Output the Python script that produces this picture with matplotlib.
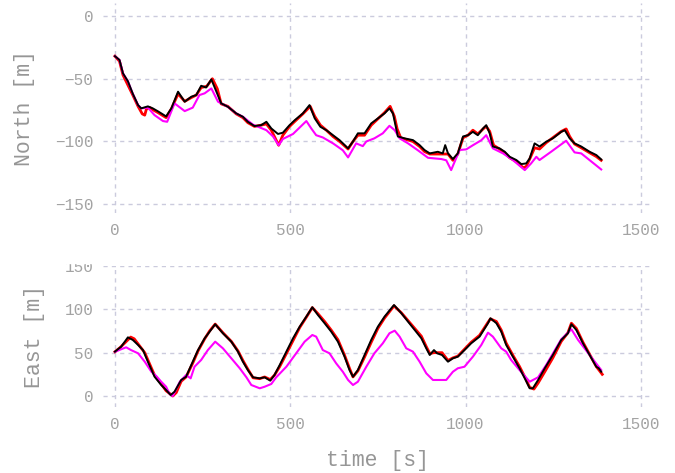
import matplotlib
matplotlib.use("Agg")
import matplotlib.pyplot as plt
from matplotlib.patches import Rectangle

plt.rcParams['font.family'] = ['Liberation Mono', 'DejaVu Sans Mono']

# --- North [m] ---
t_north_black = [0, 13, 23, 37, 51, 66, 75, 94, 108, 123, 146, 161, 180, 199, 218, 232, 246, 260, 275,
                 289, 303, 322, 346, 365, 379, 398, 417, 432, 446, 465, 479, 498, 513, 536, 555, 570,
                 586, 603, 622, 641, 665, 679, 693, 712, 731, 750, 769, 783, 793, 807, 826, 850, 869,
                 883, 898, 921, 935, 942, 950, 964, 978, 993, 1007, 1021, 1035, 1050, 1059, 1069, 1078,
                 1097, 1112, 1126, 1145, 1159, 1173, 1183, 1197, 1211, 1230, 1249, 1273, 1283, 1297,
                 1311, 1330, 1354, 1373, 1387]
north_black = [-32, -35, -45.7, -52, -62, -71, -73.6, -72, -73.6, -76, -80, -73.6, -60.3, -68.3, -64.3,
               -63, -55.6, -57, -50.5, -60, -69.6, -72.3, -77.6, -80.3, -84.3, -87.7, -87, -84.3, -89.6,
               -94, -93, -87, -83, -77.6, -71, -81.6, -88.3, -91, -95, -99, -105.5, -100, -93.5, -93.5,
               -85.6, -81.6, -77.6, -73.6, -77.6, -96, -97.5, -98.9, -102.9, -106.8, -109.5, -108.2,
               -109.5, -102.9, -109.5, -114, -109.5, -96, -95, -92.3, -95, -89.6, -87, -93.5, -104,
               -105.5, -108.2, -112.2, -114.8, -118, -117.5, -113.5, -101.5, -104, -100.2, -97.5, -92.3,
               -91, -97.5, -101.5, -104, -108.2, -110.8, -114.3]

t_north_red = [0, 13, 23, 37, 51, 66, 78, 85, 90, 100, 110, 123, 146, 161, 180, 199, 218, 232, 246, 262,
               278, 292, 303, 322, 346, 365, 379, 398, 417, 432, 446, 467, 479, 498, 513, 536, 557, 570,
               586, 603, 622, 641, 665, 679, 693, 712, 731, 750, 769, 785, 797, 805, 815, 826, 850, 869,
               883, 898, 935, 950, 964, 978, 993, 1007, 1021, 1035, 1054, 1059, 1069, 1080, 1097, 1112,
               1126, 1145, 1165, 1173, 1183, 1197, 1211, 1230, 1249, 1273, 1287, 1297, 1311, 1330, 1354,
               1373, 1387]
north_red = [-32, -36, -47, -55, -63, -72, -78, -79, -74, -73, -75, -77, -81, -74, -62, -68, -65, -63,
             -57, -56, -50, -58, -70, -72, -78, -81, -85, -88, -87, -86, -91, -103, -95, -88, -84, -78,
             -72, -80, -87, -91, -96, -100, -106, -100, -95, -95, -87, -82, -77, -72, -80, -90, -97,
             -98, -100, -104, -108, -110, -110, -110, -115, -110, -97, -95, -91, -94, -89, -88, -92,
             -103, -106, -109, -113, -116, -121, -120, -114, -105, -106, -101, -97, -92, -90, -96,
             -102, -105, -109, -112, -115]

t_north_mag = [0, 13, 23, 37, 51, 66, 75, 94, 113, 137, 149, 170, 199, 222, 241, 256, 275, 294, 303,
               322, 346, 365, 394, 432, 451, 467, 479, 508, 546, 560, 574, 593, 622, 650, 665, 688,
               707, 717, 740, 764, 783, 798, 812, 836, 864, 893, 931, 945, 959, 983, 1002, 1021, 1045,
               1059, 1078, 1107, 1135, 1169, 1187, 1202, 1211, 1244, 1287, 1311, 1330, 1387]
north_mag = [-32, -35, -45.7, -52, -62, -71, -73.6, -73, -79, -83.7, -84.3, -69.6, -75.8, -73, -63,
             -61.6, -57.7, -68.3, -69.6, -72.3, -77.6, -80.3, -86.6, -91, -96, -103, -98, -94, -83.7,
             -89.6, -95, -96.8, -101.5, -107, -112.7, -101.5, -103.7, -100, -97.5, -93.5, -87.5, -91,
             -97.5, -101.5, -107, -113, -114, -115, -122.8, -106.8, -106.3, -103, -99, -95, -105.5,
             -109.5, -114.8, -122.8, -117.5, -112.2, -114.8, -108.2, -99.4, -108.7, -109.5, -122.3]

# --- East [m] ---
t_east_black = [0, 18, 37, 51, 66, 80, 94, 113, 132, 146, 159, 170, 189, 203, 222, 237, 256, 270, 286,
                308, 332, 351, 365, 379, 394, 413, 427, 443, 455, 470, 489, 508, 527, 546, 563, 579,
                598, 617, 636, 655, 669, 679, 693, 712, 731, 750, 769, 796, 817, 836, 855, 874, 888,
                898, 910, 919, 933, 950, 964, 978, 997, 1016, 1040, 1064, 1071, 1088, 1102, 1116, 1135,
                1154, 1169, 1183, 1192, 1207, 1226, 1249, 1273, 1292, 1302, 1316, 1335, 1354, 1373,
                1380, 1387]
east_black = [51.2, 57, 67.7, 64.7, 58.9, 53, 39.6, 22.3, 12.7, 6.9, 1.2, 5, 18.5, 22.3, 39.6, 53, 66.6,
              74.2, 82.8, 72.4, 62.7, 51.2, 39.6, 30, 21.6, 20.4, 21.6, 17.7, 24.2, 35.8, 51.2, 66.6,
              80, 91.6, 102.4, 93.5, 84, 74.2, 62.7, 45.4, 30, 22.3, 30, 47.3, 64.7, 80, 91.6, 105,
              95.5, 85.8, 76.2, 66.6, 55, 47.3, 53, 49.3, 47.3, 39.6, 43.5, 45.4, 53, 60.8, 68.5, 84,
              89.7, 84, 74.2, 58.9, 45.4, 32, 20.4, 8.9, 8.9, 18.5, 32, 47.3, 64.7, 72.4, 82.8, 76.2,
              60.8, 47.3, 33.8, 32, 28]

t_east_red = [0, 15, 30, 45, 55, 70, 85, 100, 113, 132, 146, 159, 165, 175, 189, 203, 222, 237, 256,
              270, 286, 308, 332, 351, 365, 379, 394, 413, 427, 443, 455, 470, 489, 508, 527, 546, 563,
              579, 598, 617, 636, 655, 669, 679, 693, 712, 731, 750, 769, 796, 817, 836, 855, 874, 888,
              898, 910, 933, 950, 964, 978, 997, 1016, 1040, 1064, 1071, 1088, 1102, 1116, 1135, 1154,
              1169, 1183, 1195, 1207, 1226, 1249, 1273, 1292, 1302, 1316, 1335, 1354, 1373, 1390]
east_red = [51, 56, 62, 68, 66, 58, 50, 36, 24, 14, 6, 2, 0, 4, 17, 22, 38, 52, 66, 75, 83, 73, 63, 52,
            41, 31, 21, 20, 22, 19, 24, 34, 49, 64, 79, 91, 102, 95, 86, 76, 65, 47, 32, 22, 29, 45,
            62, 78, 90, 104, 96, 87, 78, 69, 57, 49, 50, 50, 41, 44, 46, 54, 62, 70, 85, 89, 86, 76,
            61, 47, 34, 22, 10, 8, 15, 28, 44, 63, 73, 84, 78, 62, 48, 34, 25]

t_east_mag = [0, 18, 32, 46, 66, 85, 104, 118, 132, 146, 156, 165, 185, 203, 216, 227, 246, 265, 286,
              308, 332, 356, 375, 389, 413, 427, 446, 460, 489, 517, 541, 563, 574, 593, 612, 631, 650,
              665, 679, 693, 717, 740, 764, 783, 798, 812, 831, 850, 869, 888, 907, 945, 964, 978, 997,
              1021, 1045, 1064, 1078, 1102, 1116, 1130, 1154, 1183, 1207, 1230, 1273, 1302, 1321, 1354,
              1387]
east_mag = [51, 54, 56.2, 53, 49.3, 39.6, 28, 23, 16.5, 10.7, 2.3, 0, 16.5, 24.2, 20.4, 33.8, 41.6, 53,
            62.7, 55, 43.5, 32, 21.6, 12.7, 8.9, 10.7, 13.9, 21.6, 33.8, 49.3, 62.7, 70.4, 68.5, 53,
            49.3, 37.7, 28, 18.5, 12.7, 16.5, 33.8, 49.3, 60.8, 72.4, 75.4, 68.5, 55, 51.2, 39.6, 26.2,
            18.5, 18.5, 28, 32, 33.8, 45.4, 58.9, 73.1, 68.5, 55, 51.2, 41.6, 30, 16.5, 21.6, 35.8,
            65.5, 77, 64.7, 47.3, 30]

x_ticks = [0, 500, 1000, 1500]
north_ticks = [0, -50, -100, -150]
east_ticks = [0, 50, 100, 150]

text_color = '#a3a3a3'
label_color = '#969696'
grid_color = '#cbcbdd'

fig = plt.figure(figsize=(6.75, 4.73), dpi=100)
ax1 = fig.add_axes([0.1526, 0.5497, 0.8134, 0.444])
ax2 = fig.add_axes([0.1526, 0.1395, 0.8134, 0.2981])

ax1.plot(t_north_red, north_red, color='#ff0000', lw=2.0)
ax1.plot(t_north_mag, north_mag, color='#ff00ff', lw=1.5)
ax1.plot(t_north_black, north_black, color='black', lw=1.4)

ax2.plot(t_east_red, east_red, color='#ff0000', lw=2.0)
ax2.plot(t_east_mag, east_mag, color='#ff00ff', lw=1.5)
ax2.plot(t_east_black, east_black, color='black', lw=1.4)

ax1.set_xlim(-34, 1532)
ax2.set_xlim(-34, 1532)
ax1.set_ylim(-157, 10.4)
ax2.set_ylim(-12.7, 150)
ax1.set_yticks(north_ticks)
ax2.set_yticks(east_ticks)
ax1.set_ylabel('North [m]', fontsize=15.5, color=label_color, labelpad=14)
ax2.set_ylabel('East [m]', fontsize=15.5, color=label_color, labelpad=14)
ax2.set_xlabel('time [s]', fontsize=15.5, color=label_color, labelpad=13)

for ax in (ax1, ax2):
    ax.set_xticks(x_ticks)
    for s in ax.spines.values():
        s.set_visible(False)
    ax.tick_params(length=0, labelsize=11.5, labelcolor=text_color, pad=7)
    ax.grid(True, color=grid_color, linestyle=(0, (3, 3)), linewidth=1.0)
    ax.set_axisbelow(True)

# the top tick label of the East panel is cut off in the reference
fig.add_artist(Rectangle((0.0, 1 - 263 / 473), 0.15, 20 / 473, transform=fig.transFigure,
                         color='white', zorder=5))

fig.savefig('out.png', dpi=100)
